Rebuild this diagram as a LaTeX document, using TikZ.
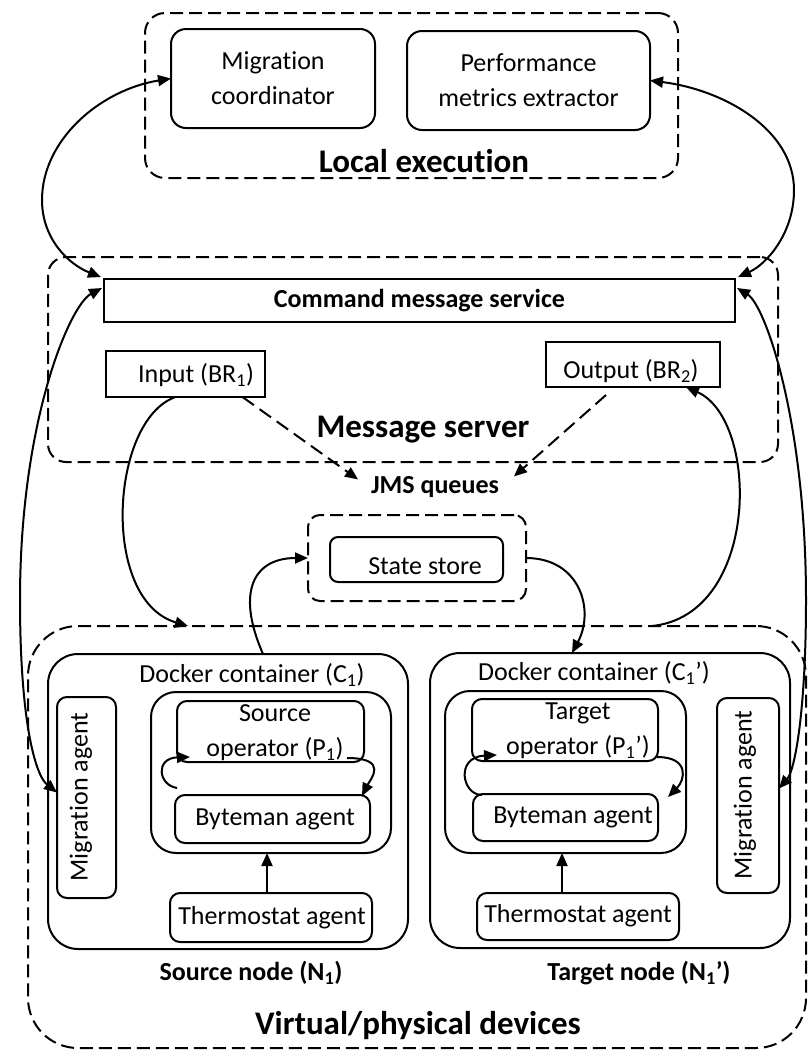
\documentclass[tikz,border=0pt]{standalone}
\usepackage{fontspec}
\setmainfont{Carlito}[Ligatures=NoCommon]
\usetikzlibrary{arrows.meta,calc}

\begin{document}
\begin{tikzpicture}[x=1pt,y=-1pt,
  >={Triangle[length=13pt,width=11pt]},
  every node/.style={inner sep=0pt, outer sep=0pt},
  box/.style={draw, line width=2pt, rounded corners=#1},
  box/.default=10pt,
  sbox/.style={draw, line width=2pt},
  dbox/.style={draw, line width=2pt, dash pattern=on 13pt off 6pt, rounded corners=#1},
  txt/.style={font=\fontsize{26}{35}\selectfont, align=center},
  btxt/.style={font=\fontsize{26}{35}\selectfont\bfseries},
  big/.style={font=\fontsize{33}{40}\selectfont\bfseries},
  link/.style={line width=2pt, ->},
  blink/.style={line width=2pt, <->},
  dlink/.style={line width=2pt, ->, dash pattern=on 14pt off 7pt}
]
\useasboundingbox (0,0) rectangle (808,1050);

% ---- Local execution ----
\node[dbox=20pt, minimum width=533pt, minimum height=165pt] (lex) at (411.5,95.5) {};
\node[box=15pt, txt, minimum width=204pt, minimum height=99pt] (mc) at (273,78.5) {Migration\\coordinator};
\node[box=15pt, txt, minimum width=243pt, minimum height=99pt] (pm) at (528.5,80.5) {Performance\\metrics extractor};
\node[big] (lexl) at (424,161) {Local execution};

% ---- Message server ----
\node[dbox=18pt, minimum width=730pt, minimum height=205pt] (ms) at (413,359.5) {};
\node[sbox, btxt, minimum width=631pt, minimum height=43pt] (cms) at (419.5,300.5) {Command message service};
\node[sbox, minimum width=159pt, minimum height=46pt] (in) at (185.5,374) {};
\node[txt] (inl) at (196,375) {Input (BR\textsubscript{1})};
\node[sbox, minimum width=174pt, minimum height=45pt] (out) at (633,364.5) {};
\node[txt] (outl) at (631,371) {Output (BR\textsubscript{2})};
\node[big] (msl) at (423,430) {Message server};
\node[btxt] (jms) at (435,487) {JMS queues};

% ---- State store ----
\node[dbox=12pt, minimum width=218pt, minimum height=86pt] (ss) at (417,558) {};
\node[box=8pt, minimum width=173pt, minimum height=45pt] (ssi) at (416.5,559.5) {};
\node[txt] (ssl) at (425,566) {State store};

% ---- Virtual/physical devices ----
\node[dbox=50pt, minimum width=778pt, minimum height=422pt] (vd) at (417,837) {};
\node[big] (vdl) at (418,1026) {Virtual/physical devices};

% source node
\node[box=30pt, minimum width=360pt, minimum height=295pt] (sn) at (228,801.5) {};
\node[txt] (sdl) at (252,675) {Docker container (C\textsubscript{1})};
\node[box=25pt, minimum width=240pt, minimum height=161pt] (sc) at (271,772.5) {};
\node[box, minimum width=187pt, minimum height=61pt] (so) at (270.5,731.5) {};
\node[txt] (sol) at (275,733) {Source\\operator (P\textsubscript{1})};
\node[box, minimum width=195pt, minimum height=48pt] (sb) at (272.5,819) {};
\node[txt] (sbl) at (275,819) {Byteman agent};
\node[box, minimum width=202pt, minimum height=49pt] (st) at (271,917.5) {};
\node[txt] (stl) at (272,918) {Thermostat agent};
\node[box, minimum width=59pt, minimum height=201pt] (sma) at (86.5,797.5) {};
\node[txt, rotate=90] (smal) at (81,797) {Migration agent};
\node[btxt] (snl) at (251,973) {Source node (N\textsubscript{1})};

% target node
\node[box=30pt, minimum width=360pt, minimum height=295pt] (tn) at (610,800.5) {};
\node[txt] (tdl) at (594,673) {Docker container (C\textsubscript{1}’)};
\node[box=25pt, minimum width=241pt, minimum height=162pt] (tc) at (565.5,772) {};
\node[box, minimum width=186pt, minimum height=62pt] (to) at (565,730) {};
\node[txt] (tol) at (578,731) {Target\\operator (P\textsubscript{1}’)};
\node[box, minimum width=185pt, minimum height=47pt] (tb) at (565.5,817.5) {};
\node[txt] (tbl) at (573,817) {Byteman agent};
\node[box, minimum width=202pt, minimum height=47pt] (tt) at (578,916.5) {};
\node[txt] (ttl) at (578,916) {Thermostat agent};
\node[box, minimum width=62pt, minimum height=195pt] (tma) at (748,795.5) {};
\node[txt, rotate=90] (tmal) at (745,795) {Migration agent};
\node[btxt] (tnl) at (639,973) {Target node (N\textsubscript{1}’)};

% ---- connectors ----
\draw[blink] (mc.west) .. controls (100,90) and (42,140) .. (42,200)
  .. controls (42,240) and (70,265) .. ($(cms.north west)+(-3,-2)$);
\draw[blink] (pm.east) .. controls (725,90) and (794,130) .. (794,190)
  .. controls (794,235) and (765,265) .. ($(cms.north east)+(3,-2)$);
\draw[blink] ($(cms.north west)+(-2,9)$) .. controls (70,305) and (20,420) .. (20,600)
  .. controls (20,720) and (35,775) .. ($(sma.west)+(0,-5)$);
\draw[blink] ($(cms.north east)+(2,9)$) .. controls (765,305) and (806,420) .. (806,600)
  .. controls (806,710) and (795,770) .. ($(tma.east)+(0,-7)$);

\draw[link] ($(in.south)+(-10,0)$) .. controls (110,420) and (100,600) .. ($(vd.north west)+(160,0)$);
\draw[link] ($(vd.north east)+(-154,0)$) .. controls (760,615) and (760,420) .. ($(out.south east)+(-34,0)$);
\draw[link] ($(sn.north)+(35,0)$) .. controls (235,590) and (255,558) .. (ss.west);
\draw[link] (ss.east) .. controls (580,558) and (595,610) .. ($(tn.north)+(-38,0)$);

\draw[dlink] ($(in.south)+(57,0)$) -- ($(jms.north west)+(-13,3)$);
\draw[dlink] ($(out.south)+(-27,8)$) -- ($(jms.north east)+(15,0)$);

\draw[link] ($(sb.north west)+(2,-7)$) .. controls (158,785) and (155,758) .. ($(so.south west)+(13,-5)$);
\draw[link] ($(so.south east)+(-17,-4)$) .. controls (390,758) and (370,780) .. ($(sb.north east)+(-8,1)$);
\draw[link] ($(tb.north west)+(9,1)$) .. controls (462,795) and (455,757) .. ($(to.south west)+(25,-6)$);
\draw[link] ($(to.south east)+(-1,-4)$) .. controls (690,757) and (685,780) .. ($(tb.north east)+(10,3)$);

\draw[link] ($(st.north)+(-4,0)$) -- ($(sc.south)+(-4,0)$);
\draw[link] ($(tt.north)+(-16,0)$) -- ($(tc.south)+(-3.5,0)$);
\end{tikzpicture}
\end{document}
